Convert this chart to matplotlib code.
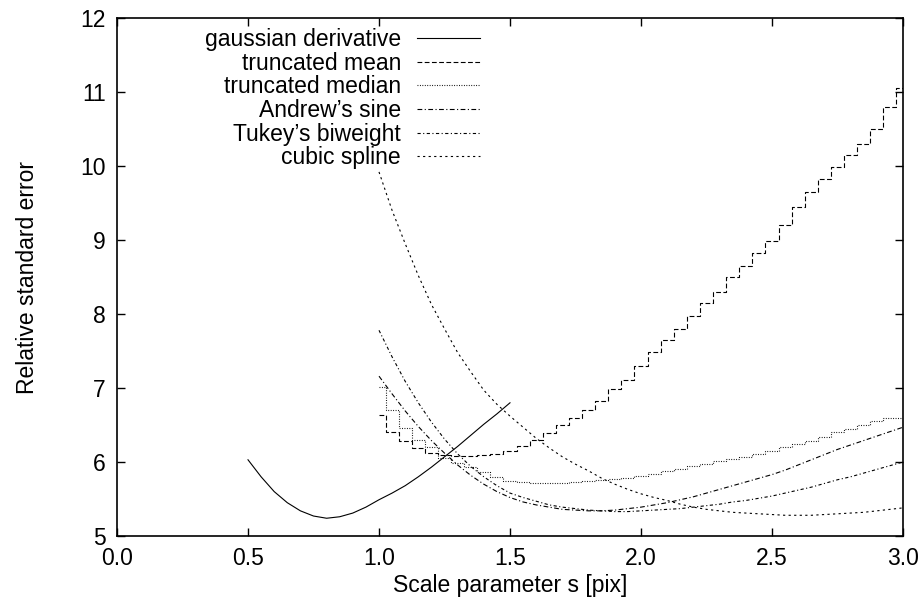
import matplotlib
matplotlib.use('Agg')
import matplotlib.pyplot as plt

plt.rcParams['font.family'] = ['Liberation Sans', 'DejaVu Sans']

# gaussian derivative, 0.5 .. 1.5
s_gauss = [0.50, 0.55, 0.60, 0.65, 0.70, 0.75, 0.80, 0.85, 0.90, 0.95, 1.00,
           1.05, 1.10, 1.15, 1.20, 1.25, 1.30, 1.35, 1.40, 1.45, 1.50]
err_gauss = [6.03, 5.80, 5.60, 5.45, 5.34, 5.27, 5.24, 5.26, 5.31, 5.39, 5.49,
             5.58, 5.68, 5.80, 5.93, 6.07, 6.21, 6.36, 6.51, 6.65, 6.80]

# the other estimators, 1.0 .. 3.0 step 0.05
s_vals = [round(1.0 + 0.05 * i, 2) for i in range(41)]
err_mean = [6.64, 6.40, 6.28, 6.19, 6.12, 6.09, 6.08, 6.08, 6.09, 6.11,
            6.15, 6.22, 6.30, 6.39, 6.50, 6.60, 6.70, 6.83, 6.99, 7.11,
            7.30, 7.48, 7.65, 7.80, 7.97, 8.15, 8.30, 8.50, 8.65, 8.82,
            8.98, 9.20, 9.45, 9.65, 9.82, 9.98, 10.15, 10.30, 10.50, 10.80,
            11.05]
err_median = [7.02, 6.70, 6.46, 6.30, 6.20, 6.05, 5.99, 5.93, 5.87, 5.80,
              5.74, 5.73, 5.72, 5.72, 5.72, 5.73, 5.74, 5.75, 5.77, 5.79,
              5.81, 5.84, 5.88, 5.91, 5.94, 5.97, 6.01, 6.04, 6.07, 6.11,
              6.15, 6.20, 6.24, 6.29, 6.34, 6.40, 6.45, 6.50, 6.55, 6.59,
              6.59]
err_andrew = [7.16, 6.92, 6.69, 6.48, 6.29, 6.12, 5.96, 5.82, 5.70, 5.60,
              5.52, 5.46, 5.42, 5.39, 5.36, 5.35, 5.34, 5.34, 5.35, 5.37,
              5.39, 5.42, 5.45, 5.49, 5.53, 5.58, 5.63, 5.68, 5.73, 5.78,
              5.83, 5.89, 5.96, 6.03, 6.10, 6.17, 6.23, 6.29, 6.35, 6.41,
              6.47]
err_tukey = [7.78, 7.42, 7.09, 6.80, 6.54, 6.31, 6.11, 5.94, 5.80, 5.68,
             5.58, 5.52, 5.47, 5.42, 5.39, 5.37, 5.35, 5.34, 5.33, 5.33,
             5.34, 5.35, 5.36, 5.37, 5.39, 5.41, 5.43, 5.46, 5.48, 5.51,
             5.54, 5.58, 5.62, 5.66, 5.71, 5.76, 5.80, 5.85, 5.90, 5.95,
             6.00]
err_spline = [9.92, 9.40, 8.95, 8.52, 8.13, 7.80, 7.48, 7.22, 6.97, 6.78,
              6.62, 6.47, 6.32, 6.19, 6.07, 5.97, 5.88, 5.78, 5.70, 5.63,
              5.57, 5.52, 5.48, 5.43, 5.39, 5.36, 5.34, 5.32, 5.31, 5.30,
              5.29, 5.28, 5.28, 5.28, 5.29, 5.30, 5.31, 5.32, 5.34, 5.36,
              5.38]

xticks = [0.0, 0.5, 1.0, 1.5, 2.0, 2.5, 3.0]
yticks = [5, 6, 7, 8, 9, 10, 11, 12]

fs = 16.5
fig = plt.figure(figsize=(9.24, 6.11), dpi=100)
ax = fig.add_axes([117/924, 1-536/611, (903-117)/924, (536-18)/611])

lw = 0.8
ax.plot(s_gauss, err_gauss, color='black', lw=lw, label='gaussian derivative')
ax.plot(s_vals, err_mean, color='black', lw=lw, dashes=(4.3, 2.2),
        drawstyle='steps-mid', label='truncated mean')
ax.plot(s_vals, err_median, color='black', lw=lw, dashes=(0.8, 1.4),
        drawstyle='steps-mid', label='truncated median')
ax.plot(s_vals, err_andrew, color='black', lw=lw, dashes=(4.3, 2.2, 1.0, 2.2),
        label="Andrew\u2019s sine")
ax.plot(s_vals, err_tukey, color='black', lw=lw, dashes=(2.9, 2.2, 1.0, 2.2),
        label="Tukey\u2019s biweight")
ax.plot(s_vals, err_spline, color='black', lw=lw, dashes=(2.0, 3.0),
        label='cubic spline')

ax.set_xlim(0, 3)
ax.set_ylim(5, 12)
ax.set_xticks(xticks)
ax.set_xticklabels(['%.1f' % v for v in xticks])
ax.set_yticks(yticks)
ax.set_yticklabels([str(v) for v in yticks])
ax.tick_params(direction='in', length=6, width=1, top=True, right=True,
               labelsize=fs, pad=8)
for sp in ax.spines.values():
    sp.set_linewidth(1.2)

ax.set_xlabel('Scale parameter s [pix]', fontsize=fs, labelpad=3)
ax.set_ylabel('Relative standard error', fontsize=fs, labelpad=30)

ax.legend(loc='upper right', bbox_to_anchor=(480/924, 1-28/611),
          bbox_transform=fig.transFigure, frameon=False, markerfirst=False,
          fontsize=fs, handlelength=2.75, handletextpad=0.7,
          labelspacing=0.03, borderpad=0, borderaxespad=0)

fig.savefig('out.png', dpi=100)
